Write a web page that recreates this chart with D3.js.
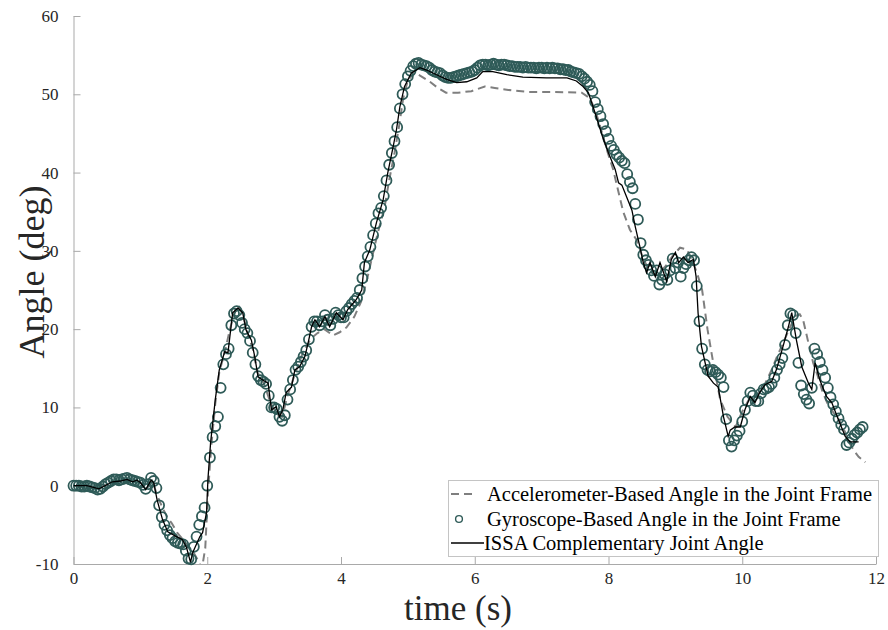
<!DOCTYPE html>
<html>
<head>
<meta charset="utf-8">
<script src="https://cdn.jsdelivr.net/npm/d3@7"></script>
<style>
  html, body { margin: 0; padding: 0; background: #ffffff; }
  svg { display: block; font-family: "Liberation Serif", "Times New Roman", serif; }
</style>
</head>
<body>
<svg id="chart" width="888" height="630"></svg>
<script>
// Axis ticks
const xTicks = [0, 2, 4, 6, 8, 10, 12];
const yTicks = [-10, 0, 10, 20, 30, 40, 50, 60];
const yTickLabels = ["-10", "0", "10", "20", "30", "40", "50", "60"];

// Accelerometer-based angle (deg) at the listed times (s)
const accelTime = [0.00,0.30,0.45,0.60,0.80,1.00,1.10,1.18,1.25,1.33,1.40,1.47,1.55,1.65,1.72,1.80,1.86,1.92,1.97,2.01,
  2.06,2.12,2.18,2.26,2.34,2.42,2.47,2.53,2.60,2.68,2.75,2.85,2.95,3.05,3.12,3.20,3.30,3.43,3.55,3.65,
  3.75,3.88,3.98,4.08,4.20,4.30,4.38,4.46,4.55,4.65,4.72,4.80,4.87,4.93,5.00,5.10,5.20,5.33,5.45,5.57,
  5.75,5.95,6.15,6.30,6.55,6.80,7.20,7.60,7.72,7.80,7.88,7.96,8.07,8.13,8.22,8.32,8.42,8.52,8.62,8.72,
  8.85,8.97,9.07,9.17,9.25,9.33,9.40,9.48,9.56,9.67,9.78,9.90,10.00,10.10,10.20,10.30,10.45,10.52,10.60,10.70,
  10.80,10.86,10.91,10.98,11.06,11.13,11.20,11.27,11.35,11.45,11.54,11.60,11.67,11.74,11.84];
const accelAngle = [0.0,-0.3,0.0,0.4,0.8,0.4,-0.3,0.6,-1.2,-2.8,-4.0,-4.8,-6.0,-7.0,-7.8,-8.6,-9.5,-10.6,-8.0,-1.0,
  5.0,10.5,14.5,17.0,20.0,22.5,23.0,22.0,19.5,17.5,14.5,13.0,10.5,9.0,8.8,11.5,14.0,17.0,18.8,19.5,
  20.0,19.2,19.6,20.2,21.6,23.5,26.0,29.0,32.3,35.5,39.0,42.5,46.0,49.5,51.8,52.8,52.3,51.6,50.8,50.2,
  50.2,50.4,51.0,50.8,50.5,50.3,50.3,50.2,49.5,48.0,45.8,43.3,40.4,38.2,35.0,32.7,31.4,29.0,27.3,27.0,
  28.0,29.5,30.4,30.2,28.8,27.0,25.0,20.0,16.0,11.0,8.8,7.5,9.5,11.0,11.3,12.3,15.0,16.5,18.0,20.0,
  21.7,21.9,21.2,18.6,15.7,14.0,12.0,10.6,9.5,8.4,6.8,5.5,4.5,3.7,3.0];

// Gyroscope-based angle (deg), sampled at gyroRate samples per second from t = 0
const gyroRate = 25;
const gyroAngle = [
  0,0,0,-0.1,-0.1,0,-0.1,-0.2,-0.3,-0.5,-0.4,-0.1,0.2,0.4,0.6,0.8,0.8,0.7,0.8,0.9,1.0,0.8,0.7,0.6,0.5,
  0.4,0.1,-0.4,0.2,1.0,0.6,-0.3,-2.5,-4.0,-5.0,-5.7,-6.3,-6.7,-7.1,-7.3,-7.4,-7.5,-8.3,-9.3,-9.4,-7.8,-6.5,-5.0,-3.9,-2.8,
  0.0,3.6,6.2,7.6,8.8,12.5,15.5,16.8,17.5,20.5,22.0,22.3,21.8,20.8,20.0,19.5,18.5,17.0,15.5,14.0,13.5,13.3,13.0,11.5,10.0,
  10.0,9.8,8.8,8.3,9.0,11.0,12.3,13.5,14.8,15.2,15.8,16.5,17.3,18.7,20.3,21.0,21.0,20.5,21.0,21.8,21.2,20.5,21.3,22.1,21.8,
  21.5,21.5,22.3,22.7,23.2,23.6,24.0,25.0,26.5,28.0,29.3,30.5,32.0,33.5,34.8,35.5,37.0,39.0,41.0,42.5,44.0,45.8,48.2,50.0,51.3,
  52.3,53.0,53.6,53.9,54.0,53.8,53.7,53.6,53.4,53.1,52.9,52.8,52.7,52.4,52.2,52.1,52.1,52.2,52.3,52.4,52.5,52.6,52.7,52.8,52.9,
  53.1,53.4,53.7,53.8,53.8,53.7,53.8,53.9,53.8,53.7,53.8,53.8,53.7,53.6,53.6,53.5,53.5,53.5,53.4,53.5,53.4,53.4,53.4,53.3,53.4,
  53.4,53.3,53.4,53.3,53.4,53.3,53.3,53.2,53.2,53.1,53.1,52.9,52.8,52.7,52.6,52.3,52.0,51.6,51.2,50.4,49.0,48.1,47.2,46.2,45.3,
  44.3,43.4,42.9,42.3,41.9,41.5,41.2,39.8,38.8,38.0,36.0,34.0,31.0,29.5,28.8,28.2,27.5,26.8,27.5,25.7,26.3,27.0,26.3,27.5,29.0,
  27.8,28.5,26.7,27.8,28.3,28.8,29.2,28.8,25.5,21.0,17.5,15.5,14.8,14.6,14.8,14.5,14.2,13.8,12.6,8.5,5.8,5.0,5.8,6.4,7.0,
  8.2,9.7,10.8,11.9,11.5,10.8,10.8,11.8,12.3,12.4,12.6,13.0,13.8,14.8,15.5,16.3,18.0,20.5,22.0,21.8,19.5,15.7,12.8,11.7,11.0,
  10.5,12.5,17.5,16.8,15.8,14.8,13.8,12.5,11.3,10.4,9.5,8.6,7.8,7.2,5.2,5.5,6.0,6.5,6.8,7.2,7.5
];

// ISSA complementary joint angle (deg) at the listed times (s)
const issaTime = [0.00,0.20,0.30,0.38,0.45,0.58,0.70,0.80,0.88,0.95,1.00,1.08,1.16,1.20,1.25,1.33,1.41,1.54,1.63,1.69,
  1.75,1.78,1.89,1.93,1.99,2.01,2.05,2.12,2.18,2.26,2.31,2.38,2.46,2.53,2.58,2.66,2.71,2.76,2.83,2.91,
  2.96,3.03,3.08,3.13,3.18,3.26,3.31,3.38,3.46,3.51,3.56,3.61,3.68,3.76,3.83,3.93,4.03,4.10,4.23,4.31,
  4.35,4.43,4.53,4.63,4.70,4.78,4.83,4.88,4.95,5.05,5.18,5.28,5.43,5.58,5.73,5.88,6.03,6.12,6.27,6.48,
  6.72,7.07,7.38,7.52,7.62,7.70,7.80,7.91,8.00,8.10,8.15,8.20,8.27,8.35,8.40,8.47,8.52,8.57,8.62,8.70,
  8.77,8.87,8.94,9.00,9.05,9.12,9.19,9.27,9.31,9.34,9.39,9.49,9.57,9.64,9.72,9.79,9.82,9.89,9.97,10.04,
  10.12,10.19,10.26,10.34,10.44,10.51,10.61,10.69,10.74,10.81,10.89,10.99,11.04,11.09,11.16,11.26,11.34,11.44,11.54,11.61,
  11.74];
const issaAngle = [0.0,0.0,-0.2,-0.4,-0.1,0.5,0.6,0.8,0.5,0.7,0.4,-0.5,0.7,0.4,-1.8,-4.3,-5.9,-6.5,-6.9,-7.9,
  -9.8,-8.6,-6.5,-6.0,-3.4,0.8,5.5,11.0,14.8,17.1,17.0,22.1,22.7,22.1,19.9,18.6,16.5,13.9,13.5,13.1,
  9.7,10.1,8.8,9.7,11.9,12.6,14.8,15.2,16.5,18.3,20.3,21.2,20.3,21.6,20.3,22.1,21.2,22.5,23.8,25.0,
  28.5,30.1,33.6,36.5,40.0,43.3,45.5,48.4,51.0,52.7,53.4,53.1,52.5,51.9,51.5,51.6,52.1,52.9,52.9,52.5,
  52.2,52.1,52.1,51.7,51.0,50.2,47.6,44.6,42.5,40.4,38.7,38.4,36.9,35.2,33.1,30.5,28.5,27.2,28.5,26.7,
  28.5,26.1,28.9,29.8,28.5,29.2,28.5,28.9,26.7,22.0,17.8,14.0,13.1,12.6,8.8,6.3,7.1,7.5,7.5,9.7,
  11.4,10.6,11.9,12.9,13.3,14.8,17.8,20.3,22.1,18.6,15.2,13.1,12.3,15.7,13.5,11.4,10.6,8.4,6.3,5.6,
  5.6];

const seriesNames = [
  "Accelerometer-Based Angle in the Joint Frame",
  "Gyroscope-Based Angle in the Joint Frame",
  "ISSA Complementary Joint Angle"
];

const plot = { left: 73.5, right: 876, top: 16, bottom: 564 };
const svg = d3.select("#chart");

const x = d3.scaleLinear().domain([0, 12]).range([plot.left, plot.right]);
const y = d3.scaleLinear().domain([-10, 60]).range([plot.bottom, plot.top]);

const axisColor = "#a9a9a9";
const textColor = "#262626";
const gyroColor = "#2f5b58";

svg.append("defs").append("clipPath").attr("id", "plot-clip")
  .append("rect")
  .attr("x", plot.left).attr("y", plot.top)
  .attr("width", plot.right - plot.left).attr("height", plot.bottom - plot.top);

// Axes (left and bottom only, ticks pointing inward)
const xAxis = svg.append("g")
  .attr("transform", `translate(0,${plot.bottom})`)
  .call(d3.axisBottom(x).tickValues(xTicks).tickSizeInner(-7).tickSizeOuter(0).tickPadding(8)
        .tickFormat(d3.format("d")));
const yAxis = svg.append("g")
  .attr("transform", `translate(${plot.left},0)`)
  .call(d3.axisLeft(y).tickValues(yTicks).tickSizeInner(-7).tickSizeOuter(0).tickPadding(15)
        .tickFormat((d, i) => yTickLabels[i]));

[xAxis, yAxis].forEach(g => {
  g.select(".domain").attr("stroke", axisColor).attr("stroke-width", 1);
  g.selectAll(".tick line").attr("stroke", axisColor).attr("stroke-width", 1);
  g.selectAll(".tick text").attr("fill", textColor)
    .style("font-family", '"Liberation Serif", "Times New Roman", serif')
    .style("font-size", "17px");
});

// Axis titles
svg.append("text")
  .attr("x", 458)
  .attr("y", 620)
  .attr("text-anchor", "middle")
  .attr("fill", textColor)
  .style("font-size", "35px")
  .text("time (s)");

svg.append("text")
  .attr("transform", "translate(44,272) rotate(-90)")
  .attr("text-anchor", "middle")
  .attr("fill", textColor)
  .style("font-size", "36px")
  .text("Angle (deg)");

// Series
const accelPts = accelTime.map((t, i) => [t, accelAngle[i]]);
const gyroPts = gyroAngle.map((v, i) => [i / gyroRate, v]);
const issaPts = issaTime.map((t, i) => [t, issaAngle[i]]);

const line = d3.line().x(d => x(d[0])).y(d => y(d[1]));

svg.append("path")
  .datum(accelPts)
  .attr("clip-path", "url(#plot-clip)")
  .attr("d", line)
  .attr("fill", "none")
  .attr("stroke", "#7f7f7f")
  .attr("stroke-width", 2)
  .attr("stroke-dasharray", "8,5");

svg.append("g")
  .selectAll("circle")
  .data(gyroPts)
  .join("circle")
  .attr("cx", d => x(d[0]))
  .attr("cy", d => y(d[1]))
  .attr("r", 5)
  .attr("fill", "none")
  .attr("stroke", gyroColor)
  .attr("stroke-width", 1.8);

svg.append("path")
  .datum(issaPts)
  .attr("clip-path", "url(#plot-clip)")
  .attr("d", line)
  .attr("fill", "none")
  .attr("stroke", "#000000")
  .attr("stroke-width", 1.3);

// Legend
const legend = svg.append("g");
const lg = { x: 448.5, y: 480.5, w: 430, h: 76 };
legend.append("rect")
  .attr("x", lg.x).attr("y", lg.y).attr("width", lg.w).attr("height", lg.h)
  .attr("fill", "#ffffff").attr("stroke", "#c4c4c4").attr("stroke-width", 1);

const rowY = [494, 519, 543];
legend.append("line")
  .attr("x1", 451).attr("x2", 474).attr("y1", rowY[0]).attr("y2", rowY[0])
  .attr("stroke", "#7f7f7f").attr("stroke-width", 2).attr("stroke-dasharray", "8,5");
legend.append("circle")
  .attr("cx", 459).attr("cy", rowY[1]).attr("r", 3.4)
  .attr("fill", "none").attr("stroke", gyroColor).attr("stroke-width", 1.4);
legend.append("line")
  .attr("x1", 451).attr("x2", 484).attr("y1", rowY[2]).attr("y2", rowY[2])
  .attr("stroke", "#000000").attr("stroke-width", 1.3);

legend.selectAll("text.item")
  .data(seriesNames)
  .join("text")
  .attr("class", "item")
  .attr("x", (d, i) => i === 2 ? 484 : 487)
  .attr("y", (d, i) => rowY[i])
  .attr("dy", "0.35em")
  .attr("fill", "#000000")
  .style("font-size", "20.5px")
  .text(d => d);
</script>
</body>
</html>
